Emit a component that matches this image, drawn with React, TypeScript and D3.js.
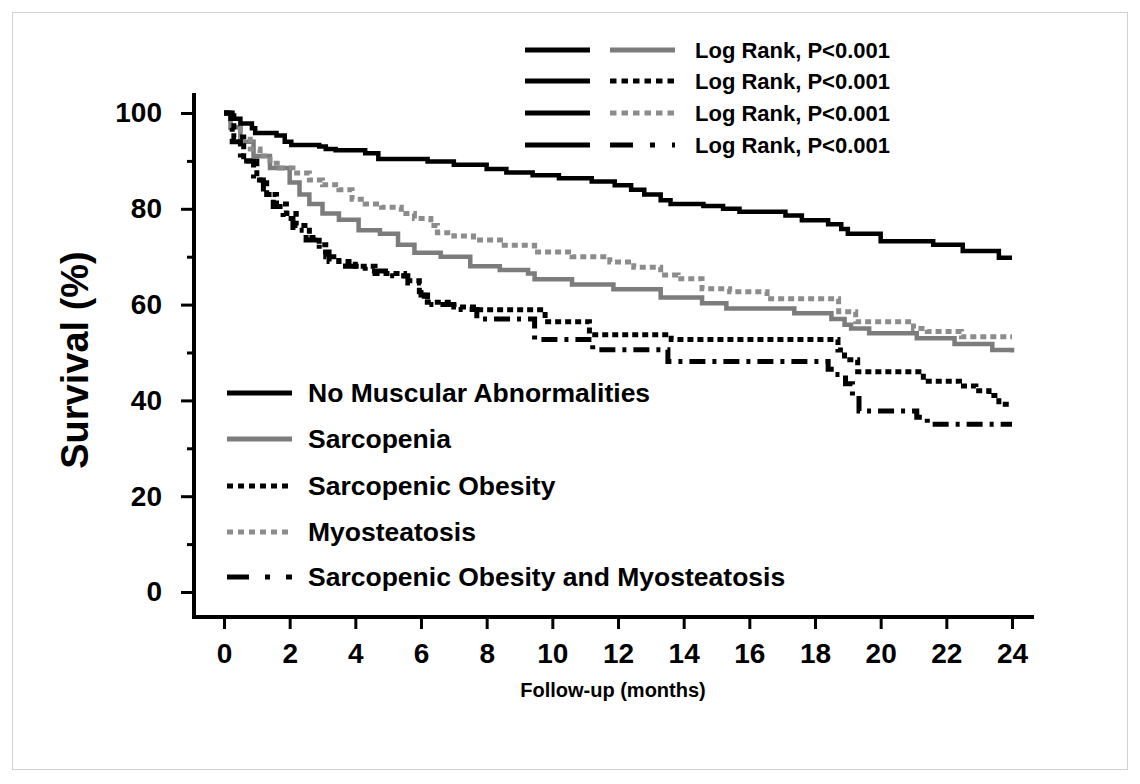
import React, { useRef, useEffect } from 'react';
import * as d3 from 'd3';

// Kaplan-Meier survival curves: [month, survival %]
const noMuscular: [number, number][] = [
  [0, 100], [0.2, 98.8], [0.5, 97.8], [0.85, 96.8], [0.95, 95.8], [1.6, 95.3], [1.85, 94],
  [2.05, 93.3], [2.9, 93], [3.1, 92.5], [3.4, 92.2], [4.3, 91.6], [4.7, 90.4], [6.2, 89.9],
  [7.0, 89.2], [8.0, 88.3], [8.6, 87.6], [9.4, 87], [10.2, 86.4], [11.2, 85.7], [11.9, 84.9],
  [12.4, 84], [12.8, 83], [13.3, 81.8], [13.6, 81], [14.6, 80.6], [15.2, 80], [15.7, 79.4],
  [17.1, 78.6], [17.6, 77.6], [18.4, 76.8], [18.8, 75.8], [19.0, 74.8], [20.0, 73.2],
  [21.6, 72.5], [22.5, 71.2], [23.6, 69.8], [24, 69.8],
];

const sarcopenia: [number, number][] = [
  [0, 100], [0.2, 97], [0.5, 94], [0.9, 91], [1.4, 88.5], [2.0, 85.5], [2.3, 83], [2.6, 81],
  [3.0, 79], [3.5, 77.7], [4.1, 75.5], [4.75, 74.8], [5.3, 72.5], [5.8, 70.8], [6.6, 70],
  [7.5, 68], [8.4, 67.2], [9.26, 66.5], [9.46, 65.3], [10.6, 64.2], [11.86, 63.2], [13.3, 61.5],
  [14.56, 60.3], [15.3, 59.2], [17.37, 58.2], [18.5, 57], [18.9, 55.8], [19.1, 55], [19.65, 54],
  [21.1, 53], [22.25, 51.8], [23.4, 50.5], [24, 50],
];

const sarcObesity: [number, number][] = [
  [0, 100], [0.3, 95], [0.6, 90], [1.0, 86], [1.3, 83], [1.6, 81], [1.9, 79], [2.2, 76.5],
  [2.6, 74], [2.9, 72.5], [3.1, 70], [3.5, 69], [4.0, 68], [4.6, 66.5], [5.5, 65], [5.95, 62.7],
  [6.1, 60.5], [7.0, 59.5], [7.7, 58.9], [9.78, 56.4], [11.13, 53.7], [13.62, 52.7],
  [18.7, 50.5], [18.9, 48.5], [19.3, 46], [21.3, 44], [22.4, 43], [22.9, 42], [23.3, 41],
  [23.6, 39.2], [24, 39.2],
];

const myosteatosis: [number, number][] = [
  [0, 100], [0.2, 97], [0.5, 94.5], [0.8, 92.5], [1.1, 91], [1.4, 89.5], [1.7, 88.5],
  [2.1, 87.5], [2.6, 86], [3.0, 85], [3.5, 84], [3.9, 82], [4.3, 81], [4.8, 80.3], [5.4, 79],
  [5.8, 78], [6.3, 76.5], [6.5, 75], [7.0, 74.3], [7.6, 73.5], [8.42, 72.4], [9.46, 71],
  [10.6, 70], [11.75, 68.9], [12.48, 67.8], [13.3, 66.2], [13.83, 65.4], [14.56, 63.3],
  [15.4, 62.7], [16.54, 61.2], [18.72, 58.5], [19.24, 56.4], [21.0, 55], [21.42, 54.4],
  [22.46, 53.3], [24, 53.3],
];

const sarcObesityMyo: [number, number][] = [
  [0, 100], [0.25, 94], [0.5, 90], [0.9, 86], [1.2, 83], [1.5, 80.5], [1.8, 78], [2.1, 75.5],
  [2.5, 73.5], [2.9, 71], [3.2, 69], [3.7, 68], [4.3, 67], [5.0, 66], [5.6, 64.5], [6.0, 62],
  [6.2, 60], [7.0, 59], [7.7, 57], [9.46, 52.7], [11.23, 50.6], [13.52, 48.1], [18.4, 46.5],
  [18.6, 45.4], [18.93, 43.5], [19.14, 41], [19.34, 37.8], [21.1, 36.5], [21.42, 35], [24, 35],
];

const seriesNames = [
  'No Muscular Abnormalities',
  'Sarcopenia',
  'Sarcopenic Obesity',
  'Myosteatosis',
  'Sarcopenic Obesity and Myosteatosis',
];
const logRankLabels = ['Log Rank, P<0.001', 'Log Rank, P<0.001', 'Log Rank, P<0.001', 'Log Rank, P<0.001'];

const xTicks = [0, 2, 4, 6, 8, 10, 12, 14, 16, 18, 20, 22, 24];
const yTicks = [0, 20, 40, 60, 80, 100];
const yMinorTicks = [10, 30, 50, 70, 90];

const seriesData = [noMuscular, sarcopenia, sarcObesity, myosteatosis, sarcObesityMyo];

const FONT = '"Liberation Sans", Arial, Helvetica, sans-serif';

// line looks per series (plot, top legend, bottom legend dash patterns)
const looks = [
  { color: '#000', width: 4.5, dash: null, topDash: null, legDash: null },
  { color: '#7c7c7c', width: 4.5, dash: null, topDash: null, legDash: null },
  { color: '#000', width: 5, dash: '6,4', topDash: '6.5,5', legDash: '6,5' },
  { color: '#8c8c8c', width: 5, dash: '6,4', topDash: '6.5,5', legDash: '6,5' },
  { color: '#000', width: 5, dash: '16,7,4,7', topDash: '23,17,5,17', legDash: '22,16,5,16' },
];

function App() {
  const chartRef = useRef<SVGSVGElement>(null);

  useEffect(() => {
    drawChart();
  }, []);

  const drawChart = () => {
    const svg = d3.select(chartRef.current);
    svg.selectAll('*').remove();

    svg.append('rect').attr('width', 1140).attr('height', 784).attr('fill', '#fff');
    svg
      .append('rect')
      .attr('x', 12.5)
      .attr('y', 12.5)
      .attr('width', 1115)
      .attr('height', 757)
      .attr('fill', 'none')
      .attr('stroke', '#d2d2d2');

    const x = d3.scaleLinear().domain([0, 24]).range([224, 1012]);
    const y = d3.scaleLinear().domain([0, 100]).range([592, 113]);

    const line = d3
      .line<[number, number]>()
      .x((d) => x(d[0]))
      .y((d) => y(d[1]))
      .curve(d3.curveStepAfter);

    // draw gray curves first, black ones on top
    const order = [1, 3, 0, 2, 4];
    const curves = svg.append('g');
    order.forEach((i) => {
      const lk = looks[i];
      curves
        .append('path')
        .attr('d', line(seriesData[i]))
        .attr('fill', 'none')
        .attr('stroke', lk.color)
        .attr('stroke-width', lk.width)
        .attr('stroke-dasharray', lk.dash);
    });

    // axes
    const xAxis = svg
      .append('g')
      .attr('transform', 'translate(0,617)')
      .call(d3.axisBottom(x).tickValues(xTicks).tickSize(12).tickSizeOuter(0).tickPadding(14));
    xAxis.select('.domain').remove();
    xAxis.selectAll('line').attr('stroke', '#000').attr('stroke-width', 3);
    xAxis
      .selectAll('text')
      .attr('fill', '#000')
      .attr('font-size', 28)
      .attr('font-weight', 'bold')
      .attr('font-family', FONT);

    const yAxis = svg
      .append('g')
      .attr('transform', 'translate(194,0)')
      .call(d3.axisLeft(y).tickValues(yTicks).tickSize(13).tickSizeOuter(0).tickPadding(19));
    yAxis.select('.domain').remove();
    yAxis.selectAll('line').attr('stroke', '#000').attr('stroke-width', 3);
    yAxis
      .selectAll('text')
      .attr('fill', '#000')
      .attr('font-size', 28)
      .attr('font-weight', 'bold')
      .attr('font-family', FONT);

    const yMinor = svg
      .append('g')
      .attr('transform', 'translate(194,0)')
      .call(d3.axisLeft(y).tickValues(yMinorTicks).tickSize(7).tickSizeOuter(0).tickFormat(() => ''));
    yMinor.select('.domain').remove();
    yMinor.selectAll('line').attr('stroke', '#000').attr('stroke-width', 3);

    svg
      .append('path')
      .attr('d', 'M194,95 V617 H1032')
      .attr('fill', 'none')
      .attr('stroke', '#000')
      .attr('stroke-width', 4)
      .attr('stroke-linecap', 'square');

    // axis titles
    svg
      .append('text')
      .attr('transform', 'translate(88,360) rotate(-90)')
      .attr('text-anchor', 'middle')
      .attr('font-family', FONT)
      .attr('font-weight', 'bold')
      .attr('font-size', 38)
      .text('Survival (%)');

    svg
      .append('text')
      .attr('x', 613)
      .attr('y', 697)
      .attr('text-anchor', 'middle')
      .attr('font-family', FONT)
      .attr('font-weight', 'bold')
      .attr('font-size', 20)
      .text('Follow-up (months)');

    // top legend: comparisons against No Muscular Abnormalities
    const topRows = [50, 81, 113, 145];
    logRankLabels.forEach((lbl, i) => {
      const ry = topRows[i];
      const lk = looks[i + 1];
      svg
        .append('line')
        .attr('x1', 525)
        .attr('x2', 590)
        .attr('y1', ry)
        .attr('y2', ry)
        .attr('stroke', '#000')
        .attr('stroke-width', 5);
      svg
        .append('line')
        .attr('x1', 610)
        .attr('x2', 675)
        .attr('y1', ry)
        .attr('y2', ry)
        .attr('stroke', lk.color)
        .attr('stroke-width', 5)
        .attr('stroke-dasharray', lk.topDash);
      svg
        .append('text')
        .attr('x', 695)
        .attr('y', ry)
        .attr('dominant-baseline', 'central')
        .attr('font-family', FONT)
        .attr('font-weight', 'bold')
        .attr('font-size', 22)
        .text(lbl);
    });

    // bottom legend: series names
    const legRows = [393, 439, 486, 532, 577];
    seriesNames.forEach((name, i) => {
      const ry = legRows[i];
      const lk = looks[i];
      svg
        .append('line')
        .attr('x1', 227)
        .attr('x2', 292)
        .attr('y1', ry)
        .attr('y2', ry)
        .attr('stroke', lk.color)
        .attr('stroke-width', 5)
        .attr('stroke-dasharray', lk.legDash);
      svg
        .append('text')
        .attr('x', 308)
        .attr('y', ry)
        .attr('dominant-baseline', 'central')
        .attr('font-family', FONT)
        .attr('font-weight', 'bold')
        .attr('font-size', 26.5)
        .text(name);
    });
  };

  return (
    <svg
      ref={chartRef}
      width={1140}
      height={784}
      style={{ position: 'absolute', left: 0, top: 0 }}
    />
  );
}

export default App;
